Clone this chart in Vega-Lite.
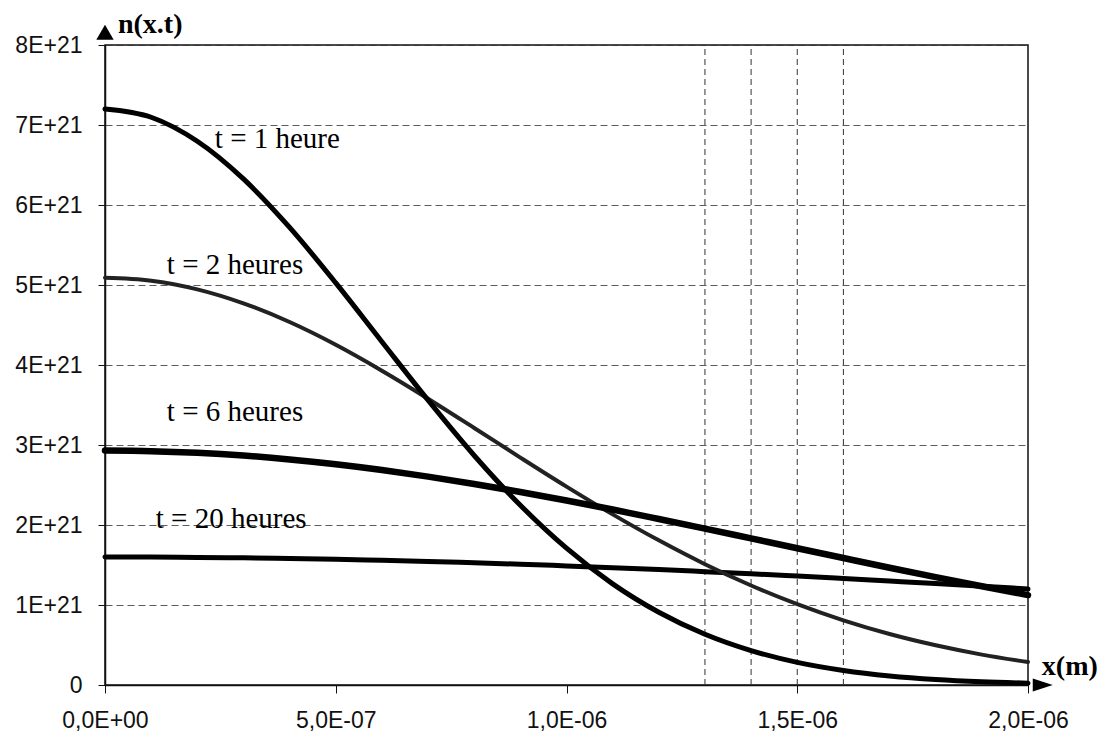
{
  "$schema": "https://vega.github.io/schema/vega-lite/v6.json",
  "width": 923,
  "height": 640,
  "autosize": {"type": "none"},
  "padding": {"left": 105, "top": 45, "right": 77, "bottom": 52},
  "background": "white",
  "config": {
    "view": {"stroke": "#111", "strokeWidth": 1.5},
    "axis": {"labelFont": "Liberation Sans", "labelColor": "#111", "domainColor": "#111", "tickColor": "#111"}
  },
  "datasets": {
    "curves": [
      {"t": "t1", "x": 0, "n": 7.2e21}, {"t": "t1", "x": 1e-7, "n": 7.097e21}, {"t": "t1", "x": 2e-7, "n": 6.797e21}, {"t": "t1", "x": 3e-7, "n": 6.326e21}, {"t": "t1", "x": 4e-7, "n": 5.72e21}, {"t": "t1", "x": 5e-7, "n": 5.026e21}, {"t": "t1", "x": 6e-7, "n": 4.291e21}, {"t": "t1", "x": 7e-7, "n": 3.56e21}, {"t": "t1", "x": 8e-7, "n": 2.869e21}, {"t": "t1", "x": 9e-7, "n": 2.247e21}, {"t": "t1", "x": 1e-6, "n": 1.71e21}, {"t": "t1", "x": 1.1e-6, "n": 1.264e21}, {"t": "t1", "x": 1.2e-6, "n": 0.909e21}, {"t": "t1", "x": 1.3e-6, "n": 0.634e21}, {"t": "t1", "x": 1.4e-6, "n": 0.43e21}, {"t": "t1", "x": 1.5e-6, "n": 0.283e21}, {"t": "t1", "x": 1.6e-6, "n": 0.182e21}, {"t": "t1", "x": 1.7e-6, "n": 0.113e21}, {"t": "t1", "x": 1.8e-6, "n": 0.068e21}, {"t": "t1", "x": 1.9e-6, "n": 0.04e21}, {"t": "t1", "x": 2e-6, "n": 0.023e21},
      {"t": "t2", "x": 0, "n": 5.09e21}, {"t": "t2", "x": 1e-7, "n": 5.054e21}, {"t": "t2", "x": 2e-7, "n": 4.946e21}, {"t": "t2", "x": 3e-7, "n": 4.771e21}, {"t": "t2", "x": 4e-7, "n": 4.537e21}, {"t": "t2", "x": 5e-7, "n": 4.253e21}, {"t": "t2", "x": 6e-7, "n": 3.929e21}, {"t": "t2", "x": 7e-7, "n": 3.579e21}, {"t": "t2", "x": 8e-7, "n": 3.213e21}, {"t": "t2", "x": 9e-7, "n": 2.843e21}, {"t": "t2", "x": 1e-6, "n": 2.48e21}, {"t": "t2", "x": 1.1e-6, "n": 2.133e21}, {"t": "t2", "x": 1.2e-6, "n": 1.808e21}, {"t": "t2", "x": 1.3e-6, "n": 1.51e21}, {"t": "t2", "x": 1.4e-6, "n": 1.244e21}, {"t": "t2", "x": 1.5e-6, "n": 1.01e21}, {"t": "t2", "x": 1.6e-6, "n": 0.808e21}, {"t": "t2", "x": 1.7e-6, "n": 0.637e21}, {"t": "t2", "x": 1.8e-6, "n": 0.496e21}, {"t": "t2", "x": 1.9e-6, "n": 0.38e21}, {"t": "t2", "x": 2e-6, "n": 0.287e21},
      {"t": "t6", "x": 0, "n": 2.93e21}, {"t": "t6", "x": 1e-7, "n": 2.923e21}, {"t": "t6", "x": 2e-7, "n": 2.902e21}, {"t": "t6", "x": 3e-7, "n": 2.868e21}, {"t": "t6", "x": 4e-7, "n": 2.82e21}, {"t": "t6", "x": 5e-7, "n": 2.76e21}, {"t": "t6", "x": 6e-7, "n": 2.688e21}, {"t": "t6", "x": 7e-7, "n": 2.605e21}, {"t": "t6", "x": 8e-7, "n": 2.513e21}, {"t": "t6", "x": 9e-7, "n": 2.413e21}, {"t": "t6", "x": 1e-6, "n": 2.306e21}, {"t": "t6", "x": 1.1e-6, "n": 2.193e21}, {"t": "t6", "x": 1.2e-6, "n": 2.075e21}, {"t": "t6", "x": 1.3e-6, "n": 1.955e21}, {"t": "t6", "x": 1.4e-6, "n": 1.832e21}, {"t": "t6", "x": 1.5e-6, "n": 1.709e21}, {"t": "t6", "x": 1.6e-6, "n": 1.587e21}, {"t": "t6", "x": 1.7e-6, "n": 1.466e21}, {"t": "t6", "x": 1.8e-6, "n": 1.348e21}, {"t": "t6", "x": 1.9e-6, "n": 1.234e21}, {"t": "t6", "x": 2e-6, "n": 1.124e21},
      {"t": "t20", "x": 0, "n": 1.6e21}, {"t": "t20", "x": 1e-7, "n": 1.599e21}, {"t": "t20", "x": 2e-7, "n": 1.595e21}, {"t": "t20", "x": 3e-7, "n": 1.59e21}, {"t": "t20", "x": 4e-7, "n": 1.582e21}, {"t": "t20", "x": 5e-7, "n": 1.572e21}, {"t": "t20", "x": 6e-7, "n": 1.559e21}, {"t": "t20", "x": 7e-7, "n": 1.545e21}, {"t": "t20", "x": 8e-7, "n": 1.528e21}, {"t": "t20", "x": 9e-7, "n": 1.51e21}, {"t": "t20", "x": 1e-6, "n": 1.489e21}, {"t": "t20", "x": 1.1e-6, "n": 1.467e21}, {"t": "t20", "x": 1.2e-6, "n": 1.443e21}, {"t": "t20", "x": 1.3e-6, "n": 1.417e21}, {"t": "t20", "x": 1.4e-6, "n": 1.39e21}, {"t": "t20", "x": 1.5e-6, "n": 1.361e21}, {"t": "t20", "x": 1.6e-6, "n": 1.331e21}, {"t": "t20", "x": 1.7e-6, "n": 1.3e21}, {"t": "t20", "x": 1.8e-6, "n": 1.269e21}, {"t": "t20", "x": 1.9e-6, "n": 1.235e21}, {"t": "t20", "x": 2e-6, "n": 1.2e21}
    ],
    "vgrid": [{"x": 1.3e-6}, {"x": 1.4e-6}, {"x": 1.5e-6}, {"x": 1.6e-6}],
    "labels": [
      {"label": "t = 1 heure", "x": 2.38e-7, "n": 6.71e21},
      {"label": "t = 2 heures", "x": 1.34e-7, "n": 5.14e21},
      {"label": "t = 6 heures", "x": 1.34e-7, "n": 3.3e21},
      {"label": "t = 20 heures", "x": 1.1e-7, "n": 1.96e21}
    ],
    "titles": [
      {"label": "n(x.t)", "x": 2.8e-8, "n": 8.15e21},
      {"label": "x(m)", "x": 2.03e-6, "n": 0.12e21}
    ],
    "arrowY": [{"x": 0, "n": 8.16e21}],
    "arrowX": [{"x": 2.032e-6, "n": 0}]
  },
  "layer": [
    {
      "data": {"name": "vgrid"},
      "mark": {"type": "rule", "stroke": "#333", "strokeWidth": 1, "strokeDash": [6, 4]},
      "encoding": {
        "x": {
          "field": "x", "type": "quantitative",
          "scale": {"domain": [0, 2e-6], "nice": false},
          "axis": {
            "values": [0, 5e-7, 1e-6, 1.5e-6, 2e-6],
            "labelExpr": "replace(replace(replace(format(datum.value, '.1e'), '.', ','), 'e-', 'E-0'), 'e+', 'E+0')",
            "labelFontSize": 23, "labelPadding": 16, "tickSize": 8, "grid": false, "title": null,
            "domainWidth": 1.5, "labelFlush": false, "labelOverlap": false
          }
        },
        "y": {"datum": 0, "type": "quantitative", "scale": {"domain": [0, 8e21], "nice": false},
          "axis": {
            "values": [0, 1e21, 2e21, 3e21, 4e21, 5e21, 6e21, 7e21, 8e21],
            "labelExpr": "datum.value == 0 ? '0' : replace(format(datum.value, '.0e'), 'e+', 'E+')",
            "labelFontSize": 23, "labelPadding": 16, "tickSize": 7, "title": null,
            "labelOverlap": false, "labelFlush": false,
            "grid": true, "gridColor": "#333", "gridDash": [7, 4], "gridWidth": 1, "gridOpacity": 0.8,
            "domainWidth": 1.5
          }
        },
        "y2": {"datum": 8e21}
      }
    },
    {
      "data": {"name": "curves"},
      "transform": [{"filter": "datum.t == 't20'"}],
      "mark": {"type": "line", "interpolate": "monotone", "strokeCap": "round", "color": "#000", "strokeWidth": 5},
      "encoding": {"x": {"field": "x", "type": "quantitative"}, "y": {"field": "n", "type": "quantitative"}}
    },
    {
      "data": {"name": "curves"},
      "transform": [{"filter": "datum.t == 't2'"}],
      "mark": {"type": "line", "interpolate": "monotone", "strokeCap": "round", "color": "#222", "strokeWidth": 4},
      "encoding": {"x": {"field": "x", "type": "quantitative"}, "y": {"field": "n", "type": "quantitative"}}
    },
    {
      "data": {"name": "curves"},
      "transform": [{"filter": "datum.t == 't1'"}],
      "mark": {"type": "line", "interpolate": "monotone", "strokeCap": "round", "color": "#000", "strokeWidth": 5},
      "encoding": {"x": {"field": "x", "type": "quantitative"}, "y": {"field": "n", "type": "quantitative"}}
    },
    {
      "data": {"name": "curves"},
      "transform": [{"filter": "datum.t == 't6'"}],
      "mark": {"type": "line", "interpolate": "monotone", "strokeCap": "round", "color": "#000", "strokeWidth": 6.5},
      "encoding": {"x": {"field": "x", "type": "quantitative"}, "y": {"field": "n", "type": "quantitative"}}
    },
    {
      "data": {"name": "labels"},
      "mark": {"type": "text", "font": "Liberation Serif", "fontSize": 29, "align": "left", "baseline": "alphabetic", "color": "#000"},
      "encoding": {
        "x": {"field": "x", "type": "quantitative"},
        "y": {"field": "n", "type": "quantitative"},
        "text": {"field": "label"}
      }
    },
    {
      "data": {"name": "titles"},
      "mark": {"type": "text", "font": "Liberation Serif", "fontWeight": "bold", "fontSize": 28, "align": "left", "baseline": "alphabetic", "color": "#000"},
      "encoding": {
        "x": {"field": "x", "type": "quantitative"},
        "y": {"field": "n", "type": "quantitative"},
        "text": {"field": "label"}
      }
    },
    {
      "data": {"name": "arrowY"},
      "mark": {"type": "point", "shape": "triangle-up", "filled": true, "size": 300, "color": "#000", "opacity": 1},
      "encoding": {
        "x": {"field": "x", "type": "quantitative"},
        "y": {"field": "n", "type": "quantitative"}
      }
    },
    {
      "data": {"name": "arrowX"},
      "mark": {"type": "point", "shape": "M-1,-0.65L1,0L-1,0.65Z", "filled": true, "size": 400, "color": "#000", "opacity": 1},
      "encoding": {
        "x": {"field": "x", "type": "quantitative"},
        "y": {"field": "n", "type": "quantitative"}
      }
    }
  ]
}
